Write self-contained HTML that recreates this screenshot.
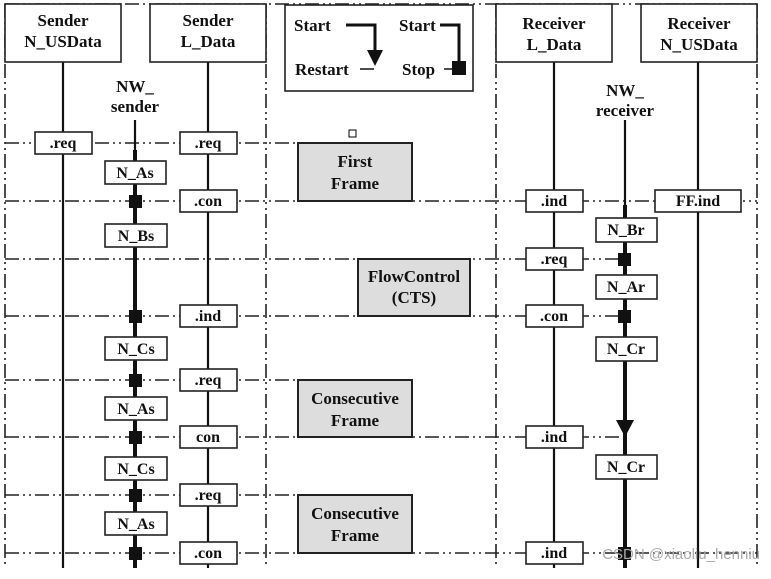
<!DOCTYPE html>
<html><head><meta charset="utf-8"><style>
body{margin:0;background:#fff}
svg text{font-family:"Liberation Serif",serif;font-weight:bold;fill:#111}
</style></head><body>
<svg width="771" height="574" viewBox="0 0 771 574" xmlns="http://www.w3.org/2000/svg">
<defs><style>
.d{stroke:#222;stroke-width:1.6;stroke-dasharray:14 4 2 4 2 4;fill:none}
.l{stroke:#111;stroke-width:2.2}
.t{stroke:#111;stroke-width:4}
.b{fill:#fff;stroke:#222;stroke-width:1.6}
.g{fill:#ddd;stroke:#222;stroke-width:2}
</style></defs>
<line class="d" x1="5" y1="4" x2="5" y2="568"/>
<line class="d" x1="266" y1="4" x2="266" y2="568"/>
<line class="d" x1="496" y1="4" x2="496" y2="568"/>
<line class="d" x1="757" y1="4" x2="757" y2="568"/>
<line class="d" x1="5" y1="4" x2="757" y2="4"/>
<line class="d" x1="5" y1="143" x2="298" y2="143"/>
<line class="d" x1="5" y1="201" x2="757" y2="201"/>
<line class="d" x1="5" y1="259" x2="625" y2="259"/>
<line class="d" x1="5" y1="316" x2="625" y2="316"/>
<line class="d" x1="5" y1="380" x2="298" y2="380"/>
<line class="d" x1="5" y1="437" x2="625" y2="437"/>
<line class="d" x1="5" y1="495" x2="298" y2="495"/>
<line class="d" x1="5" y1="553" x2="757" y2="553"/>
<line class="l" x1="63" y1="62" x2="63" y2="568"/>
<line class="l" x1="208" y1="62" x2="208" y2="568"/>
<line class="l" x1="554" y1="62" x2="554" y2="568"/>
<line class="l" x1="698" y1="62" x2="698" y2="568"/>
<line class="l" x1="135" y1="120" x2="135" y2="150"/>
<line class="t" x1="135" y1="150" x2="135" y2="568"/>
<line class="l" x1="625" y1="120" x2="625" y2="205"/>
<line class="t" x1="625" y1="205" x2="625" y2="568"/>
<rect class="b" x="5" y="4" width="116" height="58"/>
<text x="63" y="26" font-size="17" text-anchor="middle">Sender</text>
<text x="63" y="47" font-size="17" text-anchor="middle">N_USData</text>
<rect class="b" x="150" y="4" width="116" height="58"/>
<text x="208" y="26" font-size="17" text-anchor="middle">Sender</text>
<text x="208" y="47" font-size="17" text-anchor="middle">L_Data</text>
<rect class="b" x="496" y="4" width="116" height="58"/>
<text x="554" y="29" font-size="17" text-anchor="middle">Receiver</text>
<text x="554" y="50" font-size="17" text-anchor="middle">L_Data</text>
<rect class="b" x="641" y="4" width="116" height="58"/>
<text x="699" y="29" font-size="17" text-anchor="middle">Receiver</text>
<text x="699" y="50" font-size="17" text-anchor="middle">N_USData</text>
<text x="135" y="92" font-size="17" text-anchor="middle">NW_</text>
<text x="135" y="112" font-size="17" text-anchor="middle">sender</text>
<text x="625" y="96" font-size="17" text-anchor="middle">NW_</text>
<text x="625" y="116" font-size="17" text-anchor="middle">receiver</text>
<rect class="b" x="285" y="5" width="188" height="86"/>
<text x="294" y="31" font-size="17">Start</text>
<text x="295" y="75" font-size="17">Restart</text>
<text x="399" y="31" font-size="17">Start</text>
<text x="402" y="75" font-size="17">Stop</text>
<polyline points="346,25 375,25 375,55" fill="none" stroke="#111" stroke-width="3"/>
<polygon points="367,50 383,50 375,66" fill="#111"/>
<line x1="360" y1="69" x2="374" y2="69" stroke="#111" stroke-width="1.5"/>
<polyline points="440,25 459,25 459,62" fill="none" stroke="#111" stroke-width="3"/>
<rect x="452" y="61" width="14" height="14" fill="#111"/>
<line x1="444" y1="69" x2="452" y2="69" stroke="#111" stroke-width="1.5"/>
<rect x="349" y="130" width="7" height="7" fill="#fff" stroke="#000" stroke-width="1"/>
<g font-size="17" text-anchor="middle">
<rect class="g" x="298" y="143" width="114" height="58"/>
<text x="355" y="167">First</text><text x="355" y="189">Frame</text>
<rect class="g" x="358" y="259" width="112" height="57"/>
<text x="414" y="282">FlowControl</text><text x="414" y="303">(CTS)</text>
<rect class="g" x="298" y="380" width="114" height="57"/>
<text x="355" y="404">Consecutive</text><text x="355" y="426">Frame</text>
<rect class="g" x="298" y="495" width="114" height="58"/>
<text x="355" y="519">Consecutive</text><text x="355" y="541">Frame</text>
</g>
<g font-size="16" text-anchor="middle">
<rect class="b" x="35" y="132" width="57" height="22"/><text x="63" y="148">.req</text>
<rect class="b" x="180" y="132" width="57" height="22"/><text x="208" y="148">.req</text>
<rect class="b" x="180" y="190" width="57" height="22"/><text x="208" y="206">.con</text>
<rect class="b" x="180" y="305" width="57" height="22"/><text x="208" y="321">.ind</text>
<rect class="b" x="180" y="369" width="57" height="22"/><text x="208" y="385">.req</text>
<rect class="b" x="180" y="426" width="57" height="22"/><text x="208" y="442">con</text>
<rect class="b" x="180" y="484" width="57" height="22"/><text x="208" y="500">.req</text>
<rect class="b" x="180" y="542" width="57" height="22"/><text x="208" y="558">.con</text>
<rect class="b" x="526" y="190" width="57" height="22"/><text x="554" y="206">.ind</text>
<rect class="b" x="526" y="248" width="57" height="22"/><text x="554" y="264">.req</text>
<rect class="b" x="526" y="305" width="57" height="22"/><text x="554" y="321">.con</text>
<rect class="b" x="526" y="426" width="57" height="22"/><text x="554" y="442">.ind</text>
<rect class="b" x="526" y="542" width="57" height="22"/><text x="554" y="558">.ind</text>
<rect class="b" x="655" y="190" width="86" height="22"/><text x="698" y="206">FF.ind</text>
<rect class="b" x="105" y="161" width="61" height="23"/><text x="135" y="178">N_As</text>
<rect class="b" x="105" y="224" width="62" height="23"/><text x="136" y="241">N_Bs</text>
<rect class="b" x="105" y="337" width="62" height="23"/><text x="136" y="354">N_Cs</text>
<rect class="b" x="105" y="397" width="62" height="23"/><text x="136" y="414">N_As</text>
<rect class="b" x="105" y="457" width="62" height="23"/><text x="136" y="474">N_Cs</text>
<rect class="b" x="105" y="512" width="62" height="23"/><text x="136" y="529">N_As</text>
<rect class="b" x="596" y="218" width="61" height="24"/><text x="626" y="235">N_Br</text>
<rect class="b" x="596" y="275" width="61" height="24"/><text x="626" y="292">N_Ar</text>
<rect class="b" x="596" y="337" width="61" height="24"/><text x="626" y="354">N_Cr</text>
<rect class="b" x="596" y="455" width="61" height="24"/><text x="626" y="472">N_Cr</text>
</g>
<g fill="#111">
<rect x="129" y="195" width="13" height="13"/>
<rect x="129" y="310" width="13" height="13"/>
<rect x="129" y="374" width="13" height="13"/>
<rect x="129" y="431" width="13" height="13"/>
<rect x="129" y="489" width="13" height="13"/>
<rect x="129" y="547" width="13" height="13"/>
<rect x="618" y="253" width="13" height="13"/>
<rect x="618" y="310" width="13" height="13"/>
<rect x="618" y="547" width="13" height="13"/>
<polygon points="616,420 634,420 625,437"/>
</g>
<text x="760" y="559" font-size="15" text-anchor="end" style="font-family:'Liberation Sans',sans-serif;font-weight:normal;fill:#aaa">CSDN @xiaoliu_henniu</text>
</svg>
</body></html>
